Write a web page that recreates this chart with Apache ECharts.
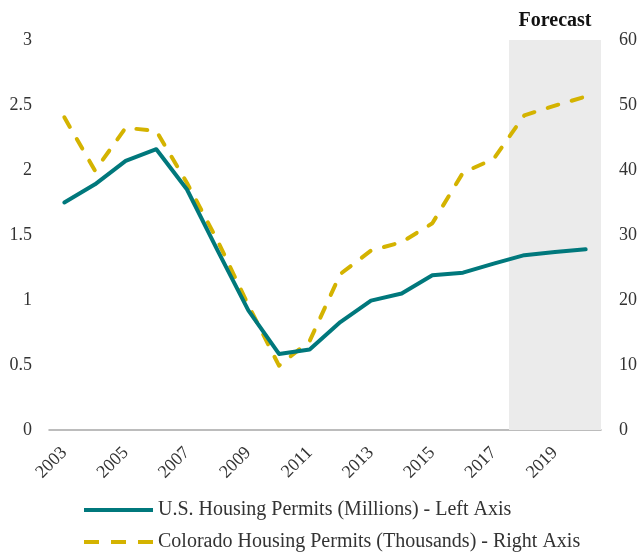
<!DOCTYPE html>
<html>
<head>
<meta charset="utf-8">
<script src="https://cdn.jsdelivr.net/npm/echarts@6/dist/echarts.min.js"></script>
<style>
  html, body { margin: 0; padding: 0; background: #fff; }
  #chart { width: 640px; height: 552px; }
</style>
</head>
<body>
<div id="chart"></div>
<script>
// Years on the horizontal axis
const years = ['2003','2004','2005','2006','2007','2008','2009','2010','2011',
               '2012','2013','2014','2015','2016','2017','2018','2019','2020'];

// U.S. housing permits, millions (left axis)
const usPermits = [1.75, 1.89, 2.07, 2.16, 1.85, 1.38, 0.92, 0.585, 0.62,
                   0.83, 0.995, 1.05, 1.19, 1.21, 1.28, 1.345, 1.37, 1.39];

// Colorado housing permits, thousands (right axis)
const coPermits = [48.1, 39.9, 46.5, 46.0, 38.0, 29.1, 19.2, 9.9, 13.7,
                   24.0, 27.6, 28.9, 31.8, 39.6, 41.7, 48.4, 49.9, 51.3];

// Forecast period (whole year bands are shaded)
const forecastStart = '2018';
const forecastEnd = '2020';

const usName = 'U.S. Housing Permits (Millions) - Left Axis';
const coName = 'Colorado Housing Permits (Thousands) - Right Axis';

const serif = '"Liberation Serif", "DejaVu Serif", serif';
const teal = '#00787c';
const gold = '#d4b300';

// legend swatches: a solid bar and a three-dash bar
const solidIcon = 'path://M0,0H69V4H0Z';
const dashIcon = 'path://M0,0H15V4H0Z M27,0H42V4H27Z M54,0H69V4H54Z';

const legendBase = {
  orient: 'vertical',
  left: 79,
  itemWidth: 69,
  itemHeight: 4,
  textStyle: { fontFamily: serif, fontSize: 20, color: '#333' }
};

const chart = echarts.init(document.getElementById('chart'), null, { renderer: 'canvas' });

chart.setOption({
  animation: false,
  backgroundColor: '#ffffff',
  grid: { left: 49, right: 37, top: 40, bottom: 122, containLabel: false },
  legend: [
    Object.assign({}, legendBase, { top: 495, data: [{ name: usName, icon: solidIcon }] }),
    Object.assign({}, legendBase, { top: 527, data: [{ name: coName, icon: dashIcon }] })
  ],
  xAxis: [
    {
      type: 'category',
      data: years,
      boundaryGap: true,
      axisLine: { lineStyle: { color: '#a6a6a6', width: 1.5 } },
      axisTick: { show: false },
      axisLabel: {
        interval: 1,
        rotate: 45,
        margin: 20,
        fontFamily: serif,
        fontSize: 18,
        color: '#333'
      }
    },
    {
      // band-index scale used to shade full year bands
      type: 'value',
      min: -0.5,
      max: years.length - 0.5,
      show: false
    }
  ],
  yAxis: [
    {
      type: 'value', min: 0, max: 3, interval: 0.5, position: 'left',
      splitLine: { show: false },
      axisLine: { show: false }, axisTick: { show: false },
      axisLabel: { margin: 17, fontFamily: serif, fontSize: 18, color: '#333' }
    },
    {
      type: 'value', min: 0, max: 60, interval: 10, position: 'right',
      splitLine: { show: false },
      axisLine: { show: false }, axisTick: { show: false },
      axisLabel: { margin: 18, fontFamily: serif, fontSize: 18, color: '#333' }
    }
  ],
  series: [
    {
      name: 'forecast-band',
      type: 'line',
      xAxisIndex: 1,
      yAxisIndex: 0,
      data: [],
      z: 1,
      silent: true,
      markArea: {
        silent: true,
        itemStyle: { color: '#ebebeb' },
        label: {
          show: true,
          position: 'top',
          distance: 9,
          fontFamily: serif,
          fontSize: 20,
          fontWeight: 'bold',
          color: '#111'
        },
        data: [[
          { name: 'Forecast', xAxis: years.indexOf(forecastStart) - 0.5, yAxis: 0 },
          { xAxis: years.indexOf(forecastEnd) + 0.5, yAxis: 3 }
        ]]
      }
    },
    {
      name: usName,
      type: 'line',
      yAxisIndex: 0,
      data: usPermits,
      showSymbol: false,
      symbol: 'none',
      z: 3,
      lineStyle: { color: teal, width: 4, cap: 'round', join: 'round' },
      itemStyle: { color: teal }
    },
    {
      name: coName,
      type: 'line',
      yAxisIndex: 1,
      data: coPermits,
      showSymbol: false,
      symbol: 'none',
      z: 2,
      lineStyle: { color: gold, width: 4, type: [11, 14], cap: 'round', join: 'round' },
      itemStyle: { color: gold }
    }
  ]
});
</script>
</body>
</html>
